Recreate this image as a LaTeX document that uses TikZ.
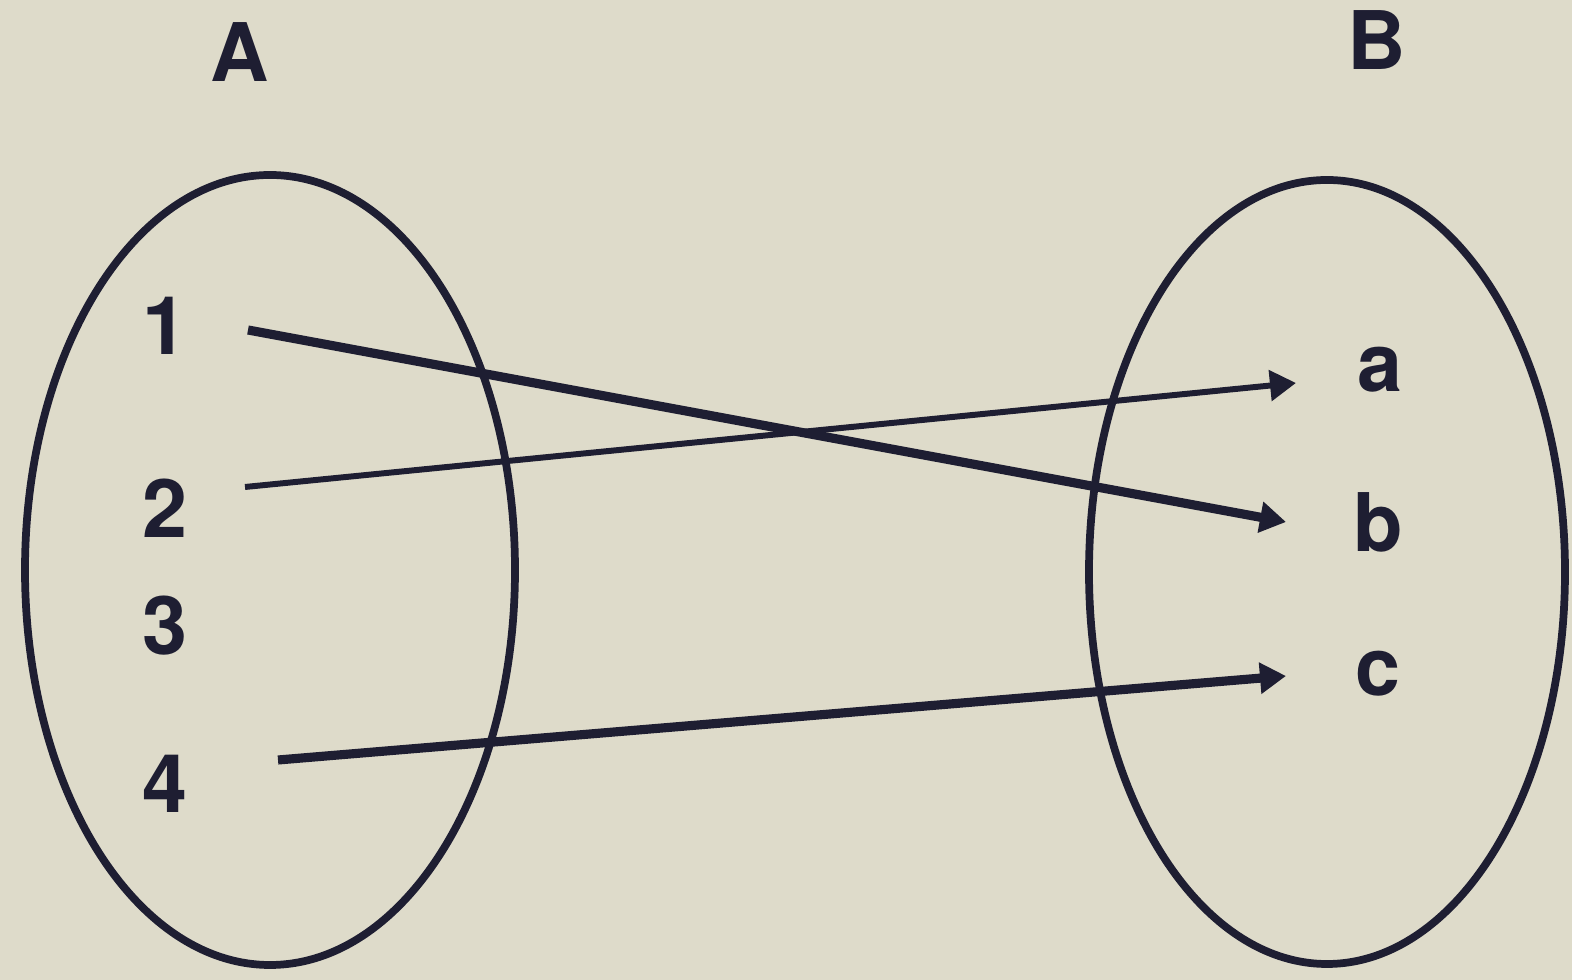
\documentclass[tikz,border=0pt]{standalone}
\usepackage{fontspec}
\setmainfont{TeX Gyre Heros}
\usepackage{tikz}
\usetikzlibrary{arrows.meta}
\definecolor{paper}{RGB}{222, 219, 202}
\definecolor{ink}{RGB}{30, 30, 50}

\tikzset{
  lbl/.style={font=\fontsize{23}{27}\selectfont\bfseries, text=ink, inner sep=0pt},
  setring/.style={draw=ink, line width=2.2pt},
  mapto/.style={draw=ink, line width=2.6pt, -{Triangle[length=0.26cm, width=0.3cm]}}
}

\begin{document}
\begin{tikzpicture}[x=0.01cm, y=-0.01cm]
      \fill[paper] (0,0) rectangle (1572,980);
      \useasboundingbox (0,0) rectangle (1572,980);
      % the two sets
      \draw[setring] (270,570) ellipse (245 and 395);
      \draw[setring] (1327,572) ellipse (238 and 392);
      \node[lbl] (setA) at (240,52) {A};
      \node[lbl] (setB) at (1377,40) {B};
      % elements
      \node[lbl] (n1) at (165,326) {1};
      \node[lbl] (n2) at (165,508) {2};
      \node[lbl] (n3) at (165,626) {3};
      \node[lbl] (n4) at (165,784) {4};
      \node[lbl] (la) at (1380,370) {a};
      \node[lbl] (lb) at (1378,522) {b};
      \node[lbl] (lc) at (1378,674) {c};
      % arrow ends
      \coordinate (s1) at (248,330);
      \coordinate (s2) at (245,487);
      \coordinate (s4) at (278,760);
      \coordinate (ea) at (1296,383);
      \coordinate (eb) at (1286,522);
      \coordinate (ec) at (1286,676);
      \draw[mapto] (s1) -- (eb);
      \draw[mapto, line width=1.7pt] (s2) -- (ea);
      \draw[mapto] (s4) -- (ec);
    \end{tikzpicture}
\end{document}
